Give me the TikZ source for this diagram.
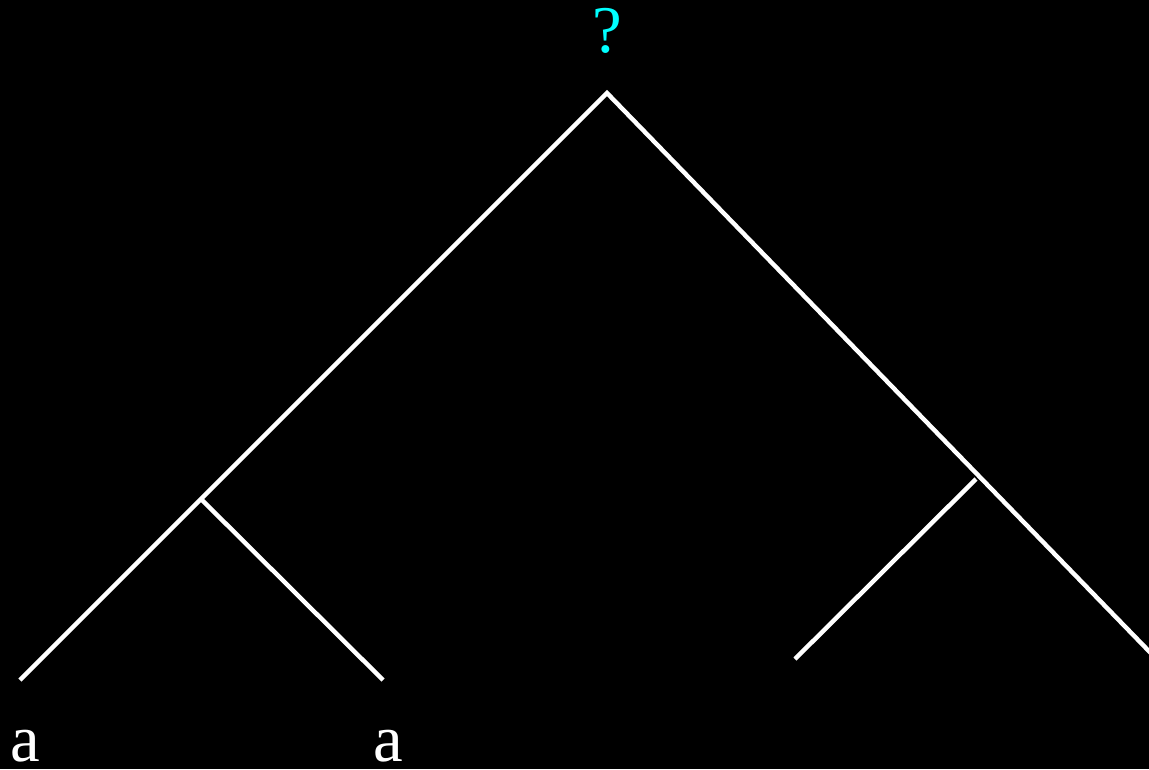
\documentclass[tikz,border=0pt]{standalone}
\usepackage{fontspec}
\setmainfont{Liberation Serif}
\usetikzlibrary{positioning}
\definecolor{qcyan}{RGB}{0,255,255}

\begin{document}
\begin{tikzpicture}[x=0.02cm, y=-0.02cm,
    branch/.style={draw=white, line width=4.2pt*0.6, line join=miter},
    leaf/.style={text=white, anchor=base, inner sep=0pt, font=\fontsize{38}{40}\selectfont}]
    \fill[black] (0,0) rectangle (1149,769);
    \clip (0,0) rectangle (1149,769);
    \coordinate (root) at (607,93);
    \coordinate (left) at (201,499);
    \coordinate (right) at (976,479);
    \coordinate (leafA) at (20,680);
    \coordinate (leafB) at (383,680);
    \coordinate (leafC) at (795,659);
    \coordinate (leafD) at (1175,678);
    \node[leaf, text=qcyan] (q) at (607,52) {?};
    \node[leaf] (a1) at (25,761) {a};
    \node[leaf] (a2) at (388,761) {a};
    \draw[branch] (leafA) -- (root) -- (leafD);
    \draw[branch] (left) -- (leafB);
    \draw[branch] (right) -- (leafC);
\end{tikzpicture}
\end{document}
